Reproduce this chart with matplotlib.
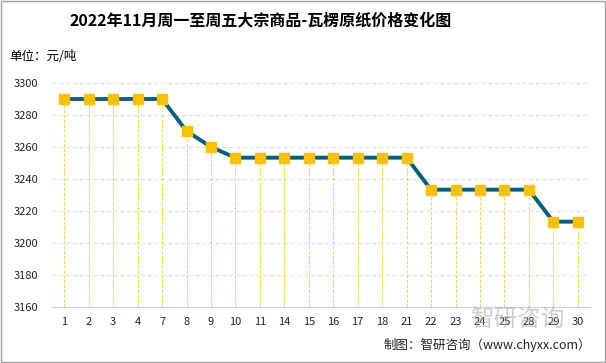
import matplotlib.pyplot as plt
import numpy as np

plt.rcParams['font.family'] = ['Noto Sans CJK SC', 'DejaVu Sans']

# trading days in Nov 2022 and price (yuan/ton)
days = ['1', '2', '3', '4', '7', '8', '9', '10', '11', '14', '15',
        '16', '17', '18', '21', '22', '23', '24', '25', '28', '29', '30']
price = [3290, 3290, 3290, 3290, 3290, 3270, 3260, 3253.33, 3253.33,
         3253.33, 3253.33, 3253.33, 3253.33, 3253.33, 3253.33,
         3233.33, 3233.33, 3233.33, 3233.33, 3233.33, 3213.33, 3213.33]
yticks = [3160, 3180, 3200, 3220, 3240, 3260, 3280, 3300]

fig = plt.figure(figsize=(6.06, 3.63), dpi=100)
ax = fig.add_axes([52/606, 1 - 307/363, 538/606, 224/363])

x = np.arange(len(days))
ax.vlines(x, yticks[0], price, colors='#FFC000', linestyles=(0, (3, 2)),
          linewidth=0.7, alpha=0.8, zorder=1)
ax.plot(x, price, color='#00617F', linewidth=2.8, zorder=2)
ax.plot(x, price, 's', color='#FFC000', markersize=6.5, zorder=3)

ax.set_xlim(-0.5, len(days) - 0.5)
ax.set_ylim(3160, 3300)
ax.set_yticks(yticks)
ax.set_xticks(x)
ax.set_xticklabels(days)
ax.tick_params(axis='both', length=0, labelsize=8, colors='#222222')
ax.tick_params(axis='x', pad=7)
ax.tick_params(axis='y', pad=10)
ax.grid(axis='y', color='#D9D9D9', linestyle=(0, (4, 3)), linewidth=0.7)
ax.set_axisbelow(True)
for s in ['top', 'right', 'left']:
    ax.spines[s].set_visible(False)
ax.spines['bottom'].set_color('#D0D0D0')

fig.text(261/606, 1 - 20/363, '2022年11月周一至周五大宗商品-瓦楞原纸价格变化图',
         ha='center', va='center', fontsize=11.5, fontweight='bold')
fig.text(9/606, 1 - 57/363, '单位：元/吨', ha='left', va='center', fontsize=9)
fig.text(591/606, 1 - 345/363, '制图：智研咨询（www.chyxx.com）',
         ha='right', va='center', fontsize=9, color='#222222')
# watermark (logo in the reference)
fig.text(470/606, 1 - 320/363, '智研咨询', ha='left', va='center', fontsize=17,
         color='#B0B0B0', alpha=0.6, zorder=0)

# outer border
fig.patches.append(plt.Rectangle((0.001, 0.002), 0.997, 0.996, transform=fig.transFigure,
                                 fill=False, edgecolor='#A0A0A0', linewidth=1))

plt.savefig('out.png', dpi=100)
